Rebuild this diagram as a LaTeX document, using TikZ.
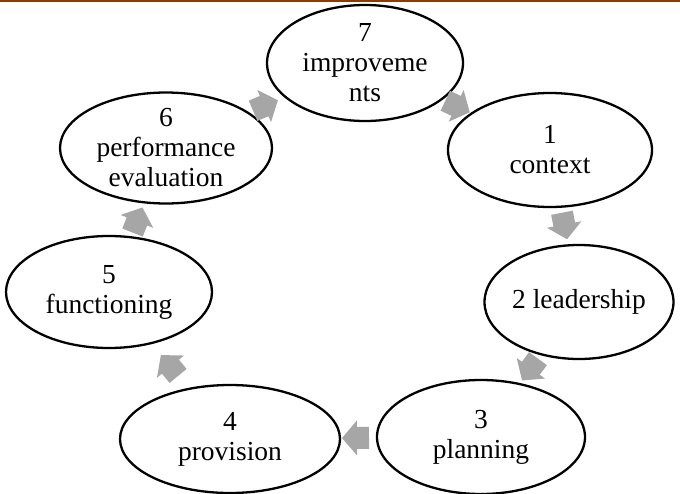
\documentclass[tikz,border=0pt]{standalone}
\usepackage{fontspec}
\setmainfont{Liberation Serif}
\usetikzlibrary{shapes.geometric,calc}

\definecolor{rulebrown}{HTML}{8B3A0E}
\definecolor{arrowgray}{HTML}{A6A6A6}

\tikzset{
  stage/.style={ellipse, draw=black, line width=2.3pt, fill=white, inner sep=0pt,
    align=center, font=\fontsize{27.5}{30}\selectfont},
  cyclefill/.style={fill=arrowgray, draw=none}
}

% block arrow half-way between two stages, pointing from the first to the second
\newcommand\cyclearrow[2]{%
  \fill[cyclefill]
    let \p1=($(#2)-(#1)$), \n1={atan2(\y1,\x1)} in
    [shift={($(#1)!0.5!(#2)$)}, rotate=\n1]
    (-13.5,-11) -- (-1.5,-11) -- (-1.5,-17.5) -- (13.5,0) -- (-1.5,17.5)
    -- (-1.5,11) -- (-13.5,11) -- cycle;
}

\begin{document}
\begin{tikzpicture}[x=1pt,y=-1pt]
  \useasboundingbox[fill=white] (0,0) rectangle (680,493);
  \draw[rulebrown, line width=2pt] (0,1) -- (680,1);

  \node[stage, minimum width=196pt, minimum height=116pt] (n7) at (365,63)  {7\\improveme\\nts};
  \node[stage, minimum width=204pt, minimum height=114pt] (n1) at (550,150) {1\\context};
  \node[stage, minimum width=186pt, minimum height=114pt] (n2) at (579,302) {2 leadership};
  \node[stage, minimum width=208pt, minimum height=114pt] (n3) at (481,437) {3\\planning};
  \node[stage, minimum width=220pt, minimum height=108pt] (n4) at (230,439) {4\\provision};
  \node[stage, minimum width=206pt, minimum height=112pt] (n5) at (109,292) {5\\functioning};
  \node[stage, minimum width=212pt, minimum height=110pt] (n6) at (166,148) {6\\performance\\evaluation};

  \cyclearrow{n7}{n1}
  \cyclearrow{n1}{n2}
  \cyclearrow{n2}{n3}
  \cyclearrow{n3}{n4}
  \cyclearrow{n4}{n5}
  \cyclearrow{n5}{n6}
  \cyclearrow{n6}{n7}
\end{tikzpicture}
\end{document}
